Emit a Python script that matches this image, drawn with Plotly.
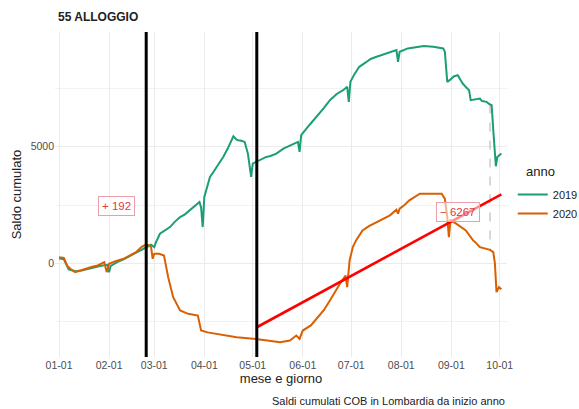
import plotly.graph_objects as go

# ---- data (day of year, cumulative balance) ----
days_2019 = [0, 3, 6, 10, 14, 18, 22, 26, 30, 31, 32, 36, 40, 44, 48, 52, 55, 57, 59, 60,
             62.5, 65, 68.7, 72, 75, 78, 81, 84, 87, 88, 89, 90, 92, 93.5, 95.5, 97.6, 100,
             101.7, 104.5, 106, 108, 110, 111, 113, 115, 117, 119, 120, 124, 128, 131, 134.6,
             139, 142, 145, 148, 149, 150, 155, 159.6, 164, 167.8, 172, 176, 178.5, 179.5,
             180.5, 183, 186, 190, 193, 196.7, 201, 205, 209, 210, 211, 216, 221.5, 226,
             231.8, 235, 238, 239, 240.5, 242, 244.5, 247, 248.5, 250, 252, 254, 255, 257,
             260.7, 262, 264.8, 267, 268, 269, 270.6, 271.5, 272.5, 274]
vals_2019 = [220, 180, -250, -330, -300, -230, -170, -100, -60, -380, -100, 60, 180, 330, 480,
             620, 760, 800, 700, 900,
             1270, 1400, 1557, 1800, 1986, 2100, 2271, 2450, 2629, 2400, 1557, 2843, 3400, 3700,
             3900, 4129, 4350,
             4557, 4914, 5150, 5443, 5300, 5271, 5250, 5200, 4700, 3700, 4271, 4414, 4550, 4600,
             4700,
             4914, 5000, 5100, 5200, 4771, 5486, 5914, 6271, 6650, 6986, 7250, 7414, 7557, 6914,
             7771, 8100, 8414, 8600, 8750, 8843, 8950, 9057, 9129, 8629, 9057, 9200, 9271, 9300,
             9271, 9250, 9200, 9057, 7771, 7843, 8000, 8057, 7900, 7700, 7550, 7414, 6986, 7000,
             7057, 6950, 6914, 6800, 6771, 5700, 4157, 4550, 4629, 4700]

days_2020 = [0, 3, 5, 7, 10, 13, 16, 20, 24, 28, 29.5, 31, 35, 40, 44, 48, 51, 54, 56, 57,
             58, 59, 62, 65, 67.6, 70.7, 75, 80, 86, 88, 92, 97.6, 103, 110, 122, 130, 137,
             143, 147, 149, 151, 156, 159.6, 164, 167.8, 171, 174, 177.5, 178.5, 180, 182,
             184, 188, 192, 196.7, 201, 205, 209, 210, 211, 214, 217, 220, 223.5, 231.8, 237,
             239, 240.5, 241.5, 242.5, 246, 249, 252, 256.5, 258, 260.7, 264, 267, 269, 270,
             271, 272.5, 274]
vals_2020 = [270, 240, -100, -229, -371, -300, -229, -150, -86, 57, -371, -14, 100, 200, 350,
             500, 700, 814, 760, 700,
             200, 414, 414, 343, -586, -1443, -2014, -2157, -2229, -2871, -2950, -3014, -3100,
             -3157, -3229, -3300, -3371,
             -3300, -3086, -3229, -2871, -2650, -2371, -2000, -1586, -1200, -871, -514, -1014,
             129, 700,
             986, 1414, 1600, 1771, 1900, 2057, 2300, 2129, 2343, 2500, 2700, 2850, 2986, 2986,
             2986,
             2771, 1986, 1129, 1843, 1700, 1550, 1414, 986, 900, 700, 650, 580, 486, 0,
             -1229, -1014, -1100]

month_ticks = [0, 31, 59, 90, 120, 151, 181, 212, 243, 273]
month_labels = ["01-01", "02-01", "03-01", "04-01", "05-01", "06-01", "07-01", "08-01",
                "09-01", "10-01"]

vlines = [54, 122.5]            # lockdown markers
trend_days = [122.5, 274]
trend_vals = [-2730, 2960]
gap_day = 267
gap_vals = [6800, 530]
labels = [(35.6, 2470, "+ 192"), (247, 2200, "\u2212 6267")]

GREEN = "#1B9E77"
ORANGE = "#D95F02"

W, H = 579, 409
ML, MR, MT, MB = 55, 72, 32, 52
PW, PH = W - ML - MR, H - MT - MB

fig = go.Figure()
fig.add_trace(go.Scatter(x=[gap_day, gap_day], y=gap_vals, mode="lines",
                         line=dict(color="#bdbdbd", width=1.2, dash="dash"),
                         showlegend=False, hoverinfo="skip"))
fig.add_trace(go.Scatter(x=days_2019, y=vals_2019, mode="lines", name="2019",
                         legendgroup="a", line=dict(color=GREEN, width=2)))
fig.add_trace(go.Scatter(x=days_2020, y=vals_2020, mode="lines", name="2020",
                         legendgroup="b", line=dict(color=ORANGE, width=2)))
fig.add_trace(go.Scatter(x=trend_days, y=trend_vals, mode="lines",
                         line=dict(color="#FF0000", width=2.6),
                         showlegend=False, hoverinfo="skip"))

for d in vlines:
    fig.add_shape(type="line", x0=d, x1=d, y0=0, y1=1, xref="x", yref="paper",
                  line=dict(color="black", width=3))

for x, y, t in labels:
    fig.add_annotation(x=x, y=y, text=t, showarrow=False,
                       font=dict(size=11.5, color="#e03a3e", family="Liberation Sans"),
                       bgcolor="rgba(255,255,255,0.55)", bordercolor="#eaa0a8",
                       borderwidth=1, borderpad=3)

fig.add_annotation(x=0.003, y=1.0, xref="paper", yref="paper", xanchor="left",
                   yanchor="bottom", yshift=6, text="<b>55 ALLOGGIO</b>", showarrow=False,
                   font=dict(size=12, color="#222222", family="Liberation Sans"))
fig.add_annotation(x=1.0, y=0, xref="paper", yref="paper", xanchor="right",
                   yanchor="top", yshift=-36, text="Saldi cumulati COB in Lombardia da inizio anno",
                   showarrow=False, font=dict(size=11, color="#222222", family="Liberation Sans"))
# legend title
fig.add_annotation(x=(524 - ML) / PW, y=(H - MB - 171) / PH, xref="paper", yref="paper",
                   xanchor="left", yanchor="middle", text="anno", showarrow=False,
                   font=dict(size=13, color="#222222", family="Liberation Sans"))

fig.update_layout(
    width=W, height=H,
    margin=dict(l=ML, r=MR, t=MT, b=MB, autoexpand=False),
    paper_bgcolor="white", plot_bgcolor="white",
    font=dict(family="Liberation Sans", color="#222222"),
    legend=dict(xref="container", yref="container", x=0.8856, xanchor="left",
                y=1 - 180 / H, yanchor="top", font=dict(size=11), tracegroupgap=0,
                itemwidth=30),
    xaxis=dict(range=[-2.5, 277.5], tickvals=month_ticks, ticktext=month_labels,
               showgrid=True, gridcolor="#ebebeb", gridwidth=1, zeroline=False,
               showline=False, ticks="", tickfont=dict(size=10.5, color="#4d4d4d"),
               title=dict(text="mese e giorno", font=dict(size=13), standoff=4)),
    yaxis=dict(range=[-4003, 9903], tickvals=[0, 5000], ticktext=["0", "5000"],
               showgrid=True, gridcolor="#ebebeb", gridwidth=1, zeroline=False,
               showline=False, ticks="", tickfont=dict(size=10.5, color="#4d4d4d"),
               minor=dict(tickvals=[-2500, 2500, 7500], showgrid=True,
                          gridcolor="#f2f2f2", gridwidth=0.6),
               title=dict(text="Saldo cumulato", font=dict(size=13), standoff=6)),
)

fig.write_html("out.html")
